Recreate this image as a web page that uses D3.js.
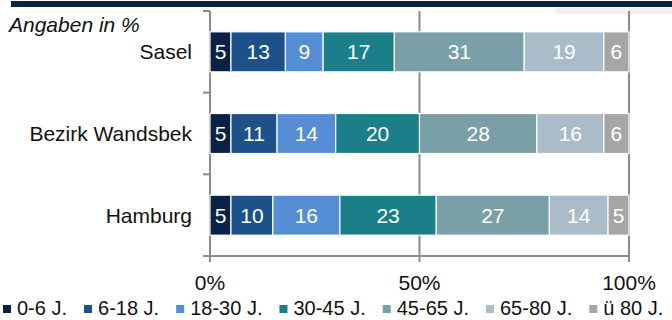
<!DOCTYPE html>
<html>
<head>
<meta charset="utf-8">
<script src="https://cdn.jsdelivr.net/npm/d3@7"></script>
<style>
  html, body { margin: 0; padding: 0; background: #fff; }
  svg { display: block; font-family: "Liberation Sans", Arial, sans-serif; }
</style>
</head>
<body>
<svg id="chart" width="672" height="320"></svg>
<script>
// Age structure by area (shares in %)
const areas = ["Sasel", "Bezirk Wandsbek", "Hamburg"];
const ageGroups = ["0-6 J.", "6-18 J.", "18-30 J.", "30-45 J.", "45-65 J.", "65-80 J.", "ü 80 J."];
const sasel = [5, 13, 9, 17, 31, 19, 6];
const wandsbek = [5, 11, 14, 20, 28, 16, 6];
const hamburg = [5, 10, 16, 23, 27, 14, 5];
const xTicks = [0, 50, 100];
const colors = ["#0b2248", "#1d5189", "#558ed5", "#1b7f89", "#7a9fa6", "#a9bcc8", "#a6a6a6"];

const rows = [sasel, wandsbek, hamburg].map((vals, i) => {
  const r = { area: areas[i] };
  ageGroups.forEach((g, j) => r[g] = vals[j]);
  return r;
});

const svg = d3.select("#chart");
const fs = 21;

// header band
svg.append("rect").attr("x", 11).attr("y", 1).attr("width", 661).attr("height", 6).attr("fill", "#0b2248");
svg.append("rect").attr("x", 555).attr("y", 8).attr("width", 117).attr("height", 6).attr("fill", "#f0f0f0");

svg.append("text")
  .attr("x", 9).attr("y", 32)
  .attr("font-size", fs).attr("font-style", "italic").attr("fill", "#111")
  .text("Angaben in %");

const x = d3.scaleLinear().domain([0, 100]).range([210, 629]);
const y = d3.scaleBand().domain(areas).range([11, 256]).paddingInner(0.51).paddingOuter(0.255);

const gridColor = "#8c8c8c";

// vertical gridlines with ticks below the axis
svg.append("g").selectAll("line").data(xTicks).join("line")
  .attr("x1", d => x(d)).attr("x2", d => x(d))
  .attr("y1", 11).attr("y2", 262)
  .attr("stroke", gridColor).attr("stroke-width", 2);

// category separators on the left axis
const sepY = [11, 11 + (256 - 11) / 3, 11 + 2 * (256 - 11) / 3, 256];
svg.append("g").selectAll("line").data(sepY).join("line")
  .attr("x1", 203).attr("x2", 210)
  .attr("y1", d => d).attr("y2", d => d)
  .attr("stroke", gridColor).attr("stroke-width", 2);

// bottom axis line
svg.append("line").attr("x1", 203).attr("x2", 630).attr("y1", 256).attr("y2", 256)
  .attr("stroke", gridColor).attr("stroke-width", 2);

// stacked bars
const stacked = d3.stack().keys(ageGroups)(rows);
const layers = svg.append("g").selectAll("g").data(stacked).join("g")
  .attr("fill", (d, i) => colors[i]);

layers.selectAll("rect").data(d => d).join("rect")
  .attr("x", d => x(d[0]))
  .attr("y", d => y(d.data.area))
  .attr("width", d => x(d[1]) - x(d[0]))
  .attr("height", y.bandwidth())
  .attr("stroke", "#fff").attr("stroke-width", 1.2);

layers.selectAll("text").data(d => d).join("text")
  .attr("x", d => (x(d[0]) + x(d[1])) / 2)
  .attr("y", d => y(d.data.area) + y.bandwidth() / 2 + 7.5)
  .attr("text-anchor", "middle")
  .attr("font-size", fs).attr("fill", "#fff")
  .text(d => d[1] - d[0]);

// category labels
svg.append("g").selectAll("text").data(areas).join("text")
  .attr("x", 192)
  .attr("y", d => y(d) + y.bandwidth() / 2 + 7.5)
  .attr("text-anchor", "end")
  .attr("font-size", fs).attr("fill", "#111")
  .text(d => d);

// x tick labels
svg.append("g").selectAll("text").data(xTicks).join("text")
  .attr("x", d => x(d))
  .attr("y", 290)
  .attr("text-anchor", "middle")
  .attr("font-size", fs).attr("fill", "#111")
  .text(d => d + "%");

// legend
const legend = svg.append("g");
let lx = 3;
ageGroups.forEach((g, i) => {
  legend.append("rect").attr("x", lx).attr("y", 305).attr("width", 8).attr("height", 8).attr("fill", colors[i]);
  const t = legend.append("text").attr("x", lx + 14).attr("y", 315)
    .attr("font-size", 20).attr("fill", "#111").text(g);
  lx += 14 + t.node().getComputedTextLength() + 17;
});
</script>
</body>
</html>
